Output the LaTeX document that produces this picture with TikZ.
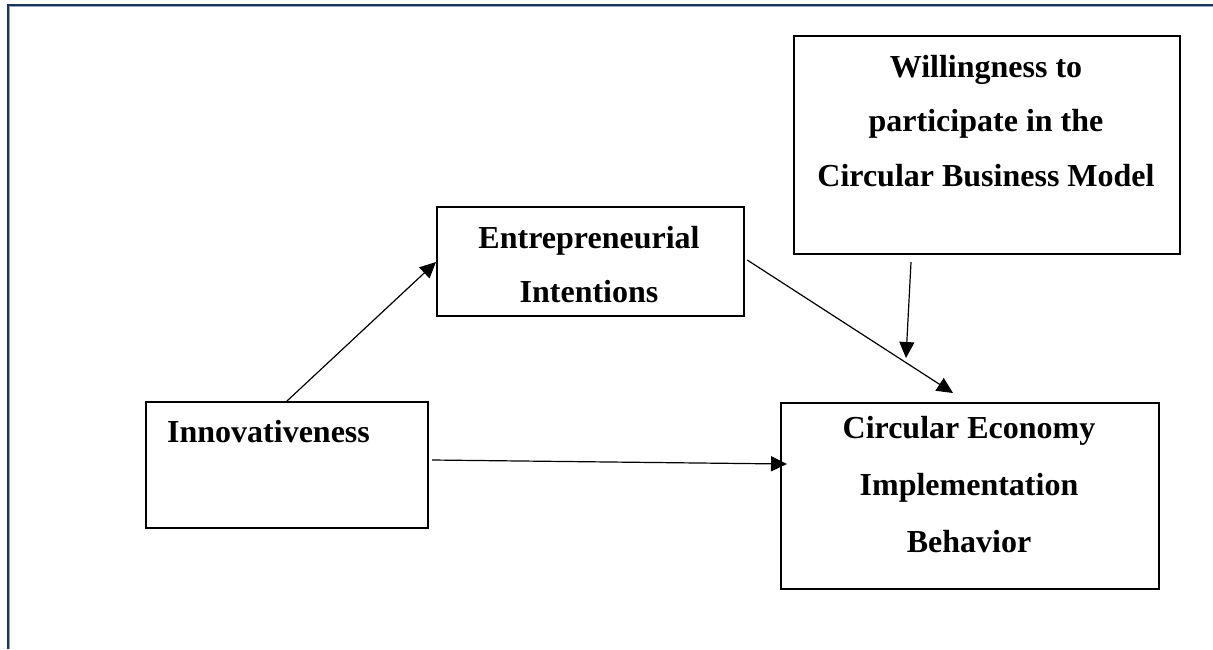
\documentclass[tikz,border=0pt]{standalone}
\usepackage{fontspec}
\setmainfont{Liberation Serif}
\usetikzlibrary{arrows.meta}
\definecolor{framenavy}{HTML}{1F3558}
\definecolor{framelight}{HTML}{8EA3C4}
\tikzset{
  box/.style={draw=black, line width=2.2pt, rectangle, inner sep=0pt, anchor=north west},
  lbl/.style={anchor=base, inner sep=0pt, font=\fontsize{32}{38}\selectfont\bfseries},
  arr/.style={draw=black, line width=1.2pt, -{Triangle[length=16pt,width=15pt]}},
}
\begin{document}
\begin{tikzpicture}[x=1pt,y=-1pt]
\useasboundingbox (0,0) rectangle (1213,649);
% outer frame (top and left)
\coordinate (fa) at (9.5,649);
\coordinate (fb) at (9.5,6.5);
\coordinate (fc) at (1213,6.5);
\draw[framelight, line width=1pt] (fa) -- (fb) -- (fc);
\coordinate (ga) at (8,649);
\coordinate (gb) at (8,5);
\coordinate (gc) at (1213,5);
\draw[framenavy, line width=2.5pt] (ga) -- (gb) -- (gc);

% boxes
\node[box, minimum width=282pt, minimum height=126pt] (inn) at (145,401) {};
\node[box, minimum width=307pt, minimum height=109pt] (ent) at (436,206) {};
\node[box, minimum width=386pt, minimum height=218pt] (wil) at (793,35) {};
\node[box, minimum width=378pt, minimum height=186pt] (ce) at (780,402) {};

% texts
\node[lbl, anchor=base west] (innT) at (167,442) {Innovativeness};
\node[lbl] (entA) at (589,248) {Entrepreneurial};
\node[lbl] (entB) at (589,302) {Intentions};
\node[lbl] (wilA) at (986,77) {Willingness to};
\node[lbl] (wilB) at (986,131) {participate in the};
\node[lbl] (wilC) at (986,186) {Circular Business Model};
\node[lbl] (ceA) at (969,438) {Circular Economy};
\node[lbl] (ceB) at (969,495) {Implementation};
\node[lbl] (ceC) at (969,552) {Behavior};

% connectors
\draw[arr] ([xshift=142pt]inn.north west) -- ([yshift=-56pt]ent.north west);
\draw[arr] ([xshift=2pt,yshift=-54pt]ent.north east) -- ([xshift=173pt,yshift=9pt]ce.north west);
\draw[arr] ([xshift=118pt,yshift=-7pt]wil.south west) -- ([xshift=126pt,yshift=44pt]ce.north west);
\draw[arr] ([xshift=3pt,yshift=-59pt]inn.north east) -- ([xshift=7pt,yshift=-62pt]ce.north west);
\end{tikzpicture}
\end{document}
